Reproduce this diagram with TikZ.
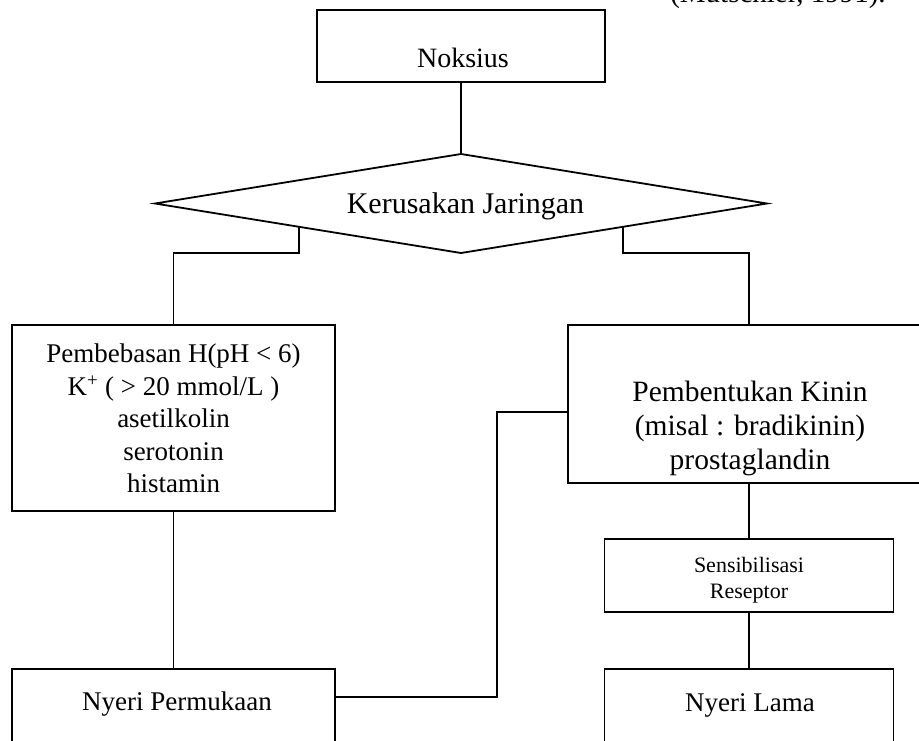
\documentclass[tikz,border=0pt]{standalone}
\usepackage{fontspec}
\setmainfont{Liberation Serif}
\usetikzlibrary{shapes.geometric,calc}
\begin{document}
\begin{tikzpicture}[x=1pt,y=1pt,
  box/.style={draw, line width=1.8pt, rectangle, inner sep=0pt, outer sep=0pt},
  lbl/.style={inner sep=0pt, outer sep=0pt, align=center},
  conn/.style={line width=1.8pt}]
\useasboundingbox (0,0) rectangle (919,-740);
\clip (0,0) rectangle (919,-740);
% citation (cut at top edge, as in the reference)
\node[inner sep=0pt, outer sep=0pt, anchor=base, font=\fontsize{29}{35}\selectfont] (cite) at (778,-2) {(Mutschler, 1991).};
% boxes
\node[box, minimum width=288pt, minimum height=72pt] (nok) at (461,-46) {};
\node[lbl, anchor=base, font=\fontsize{28}{33.6}\selectfont] (noktxt) at (463,-67) {Noksius};
\node[diamond, draw, line width=1.8pt, minimum width=612pt, minimum height=99pt, inner sep=0pt, outer sep=0pt] (dia) at (461,-203.5) {};
\node[lbl, anchor=base, font=\fontsize{30}{36}\selectfont] (diatxt) at (465.5,-213) {Kerusakan Jaringan};
\node[box, minimum width=323pt, minimum height=186pt] (lb) at (173.5,-418) {};
\node[lbl, font=\fontsize{27}{32.5}\selectfont] (lbtxt) at (173.5,-418.5) {Pembebasan H(pH < 6)\\ K\textsuperscript{+} ( > 20 mmol/L )\\ asetilkolin\\ serotonin\\ histamin};
\node[box, minimum width=323pt, minimum height=100pt] (np) at (173.5,-719) {};
\node[lbl, anchor=base, font=\fontsize{27}{32.4}\selectfont] (nptxt) at (177,-710) {Nyeri Permukaan};
\node[box, minimum width=362pt, minimum height=158pt] (pk) at (749,-404) {};
\node[lbl, font=\fontsize{29.5}{34}\selectfont] (pktxt) at (750,-428) {Pembentukan Kinin\\ (misal : bradikinin)\\ prostaglandin};
\node[box, minimum width=289pt, minimum height=73pt] (sr) at (749,-575.5) {};
\node[lbl, font=\fontsize{22}{26.5}\selectfont] (srtxt) at (749,-580) {Sensibilisasi\\ Reseptor};
\node[box, minimum width=289pt, minimum height=100pt] (nl) at (749,-719) {};
\node[lbl, anchor=base, font=\fontsize{27}{32.4}\selectfont] (nltxt) at (750,-711) {Nyeri Lama};
% connectors
\coordinate (dl) at ($(dia.west)!0.4706!(dia.south)$);
\coordinate (dr) at ($(dia.east)!0.4706!(dia.south)$);
\coordinate (j1) at (497,-412);
\coordinate (j2) at (497,-697);
\draw[conn] (nok.south) -- (dia.north);
\draw[conn] (dl) |- ($(lb.north)+(0,72)$) -- (lb.north);
\draw[conn] (dr) |- ($(pk.north)+(0,72)$) -- (pk.north);
\draw[conn] (lb.south) -- (np.north);
\draw[conn] (pk.south) -- (sr.north);
\draw[conn] (sr.south) -- (nl.north);
\draw[conn] (pk.west |- j1) -- (j1) -- (j2) -- (np.east |- j2);
\end{tikzpicture}
\end{document}
